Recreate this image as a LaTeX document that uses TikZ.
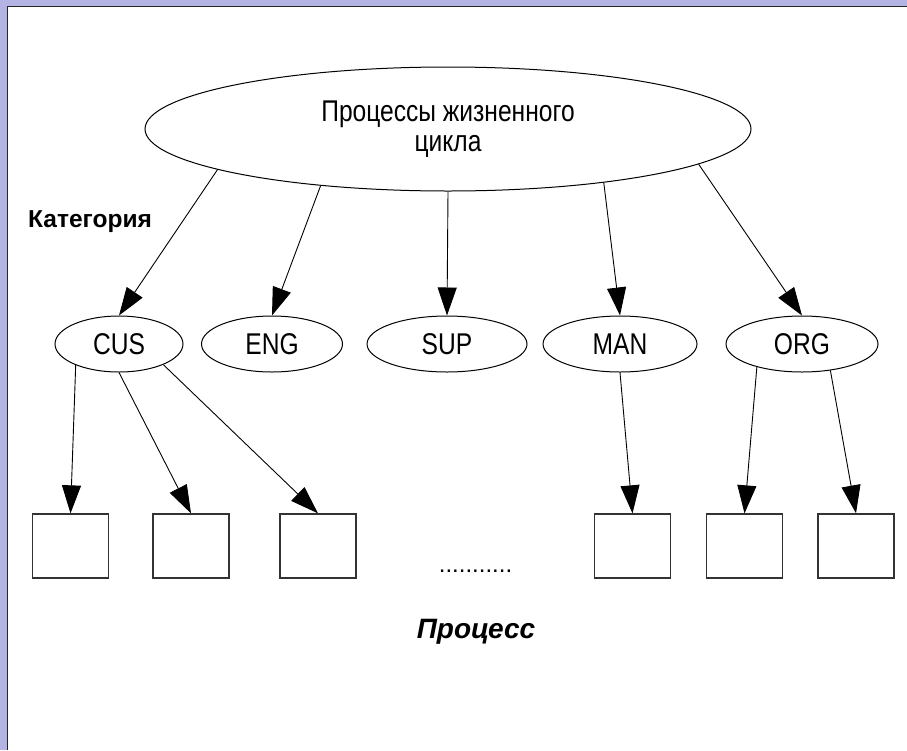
\documentclass[tikz,border=0pt]{standalone}
\usepackage{fontspec}
\setmainfont{Liberation Sans}
\newfontfamily\narrowfont[FakeStretch=0.82]{Liberation Sans}
\usetikzlibrary{shapes.geometric,arrows.meta}
\definecolor{framecol}{RGB}{180,180,228}
\begin{document}
\begin{tikzpicture}[x=1pt,y=-1pt,
  cat/.style={ellipse,draw,line width=1pt,inner sep=0pt,minimum height=56pt,
    font=\narrowfont\fontsize{30}{30}\selectfont},
  procbox/.style={draw=black!80,line width=1.3pt,minimum width=76pt,minimum height=64pt,inner sep=0pt},
  arr/.style={line width=0.9pt,-{Triangle[length=28pt,width=19pt]}},
  lab/.style={inner sep=0pt}]
\useasboundingbox (0,0) rectangle (907,750);
\fill[framecol] (0,0) rectangle (907,750);
\fill[white] (8,7) rectangle (907,750);
\draw[line width=1.5pt,black!85] (7.25,750) -- (7.25,6.25) -- (907,6.25);

\node[cat,minimum width=606pt,minimum height=124pt,align=center,
  font=\narrowfont\fontsize{30}{30}\selectfont] (top) at (448,129) {Процессы жизненного\\цикла};

\node[lab,anchor=west,font=\bfseries\fontsize{24.5}{28}\selectfont] (katlab) at (28,222) {Категория};

\node[cat,minimum width=128pt] (cus) at (119,344) {CUS};
\node[cat,minimum width=141pt] (eng) at (272,344) {ENG};
\node[cat,minimum width=160pt] (sup) at (447,344) {SUP};
\node[cat,minimum width=154pt] (man) at (620,344) {MAN};
\node[cat,minimum width=152pt] (org) at (802,344) {ORG};

\node[procbox] (b1) at (70.5,546) {};
\node[procbox] (b2) at (191,546) {};
\node[procbox] (b3) at (318,546) {};
\node[procbox] (b4) at (632.5,546) {};
\node[procbox] (b5) at (744.5,546) {};
\node[procbox] (b6) at (856,546) {};

\node[lab,anchor=base,font=\fontsize{24}{28}\selectfont] (dots) at (475.5,572) {...........};
\node[lab,anchor=base,font=\bfseries\itshape\fontsize{28}{32}\selectfont] (proclab) at (476,638) {Процесс};

\draw[arr] (top.-170.6) -- (cus.north);
\draw[arr] (top.-156.1) -- (eng.north);
\draw[arr] (top.-90) -- (sup.north);
\draw[arr] (top.-19.1) -- (man.north);
\draw[arr] (top.-8) -- (org.north);

\draw[arr] (cus.-154) -- (b1.north);
\draw[arr] (cus.-90) -- (b2.north);
\draw[arr] (cus.-25) -- (b3.north);
\draw[arr] (man.-90) -- (b4.north);
\draw[arr] (org.-153) -- (b5.north);
\draw[arr] (org.-43) -- (b6.north);
\end{tikzpicture}
\end{document}
